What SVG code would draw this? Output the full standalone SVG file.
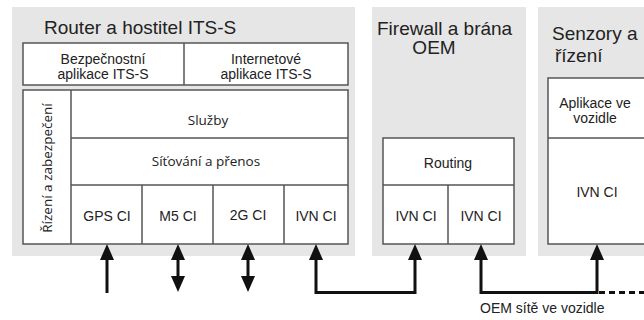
<svg xmlns="http://www.w3.org/2000/svg" width="644" height="320" viewBox="0 0 644 320">
<style>
.panel{fill:#e6e6e6;stroke:none}
.box{fill:#fff;stroke:#555;stroke-width:1.5}
.ln{fill:none;stroke:#555;stroke-width:1.5}
.t{font-family:"Liberation Sans",Arial,sans-serif;fill:#222}
.title{font-size:19px}
.lbl{font-size:14px;text-anchor:middle}
.ns{font-family:"Open Sans","Noto Sans",sans-serif;fill:#222;font-size:13.5px;text-anchor:middle}
.arr{fill:none;stroke:#111;stroke-width:3}
.dash{fill:none;stroke:#111;stroke-width:3;stroke-dasharray:6 4}
</style>
<defs>
<marker id="ah" viewBox="0 0 16 14" refX="10" refY="7" markerWidth="16" markerHeight="14" markerUnits="userSpaceOnUse" orient="auto-start-reverse">
<path d="M0,0 L16,7 L0,14 z" fill="#111"/>
</marker>
</defs>
<g id="router">
<rect class="panel" x="12" y="7" width="343" height="249"/>
<text class="t title" x="44" y="34">Router a hostitel ITS-S</text>
<rect class="box" x="23" y="43" width="325" height="42"/>
<line class="ln" x1="184" y1="43" x2="184" y2="85"/>
<text class="t lbl" x="103" y="64">Bezpečnostní</text>
<text class="t lbl" x="103" y="79">aplikace ITS-S</text>
<text class="t lbl" x="266" y="64">Internetové</text>
<text class="t lbl" x="266" y="79">aplikace ITS-S</text>
<rect class="box" x="23" y="90" width="325" height="154"/>
<line class="ln" x1="71" y1="90" x2="71" y2="244"/>
<line class="ln" x1="71" y1="138" x2="348" y2="138"/>
<line class="ln" x1="71" y1="185" x2="348" y2="185"/>
<line class="ln" x1="142" y1="185" x2="142" y2="244"/>
<line class="ln" x1="213" y1="185" x2="213" y2="244"/>
<line class="ln" x1="284" y1="185" x2="284" y2="244"/>
<text class="ns" transform="translate(52,168) rotate(-90)">Řízení a zabezpečení</text>
<text class="ns" x="208" y="125">Služby</text>
<text class="ns" x="206" y="166">Síťování a přenos</text>
<text class="t lbl" x="107" y="221">GPS CI</text>
<text class="t lbl" x="178" y="221">M5 CI</text>
<text class="t lbl" x="248" y="220">2G CI</text>
<text class="t lbl" x="316" y="221">IVN CI</text>
</g>
<g id="firewall">
<rect class="panel" x="372" y="7" width="154" height="249"/>
<text class="t title" x="377" y="35">Firewall a brána</text>
<text class="t title" x="434" y="54" text-anchor="middle">OEM</text>
<rect class="box" x="383" y="138" width="131" height="106"/>
<line class="ln" x1="383" y1="185" x2="514" y2="185"/>
<line class="ln" x1="448" y1="185" x2="448" y2="244"/>
<text class="t lbl" x="448" y="168">Routing</text>
<text class="t lbl" x="416" y="221">IVN CI</text>
<text class="t lbl" x="481" y="221">IVN CI</text>
</g>
<g id="senzory">
<rect class="panel" x="538" y="7" width="110" height="249"/>
<text class="t title" x="552" y="40">Senzory a</text>
<text class="t title" x="555" y="62">řízení</text>
<rect class="box" x="548" y="78" width="110" height="166"/>
<line class="ln" x1="548" y1="138" x2="644" y2="138"/>
<text class="t lbl" x="595" y="108">Aplikace ve</text>
<text class="t lbl" x="595" y="123">vozidle</text>
<text class="t lbl" x="597" y="197">IVN CI</text>
</g>
<g id="connectors">
<path class="arr" d="M107,293 L107,250" marker-end="url(#ah)"/>
<path class="arr" d="M178,250 L178,286" marker-start="url(#ah)" marker-end="url(#ah)"/>
<path class="arr" d="M248,250 L248,286" marker-start="url(#ah)" marker-end="url(#ah)"/>
<path class="arr" d="M316,250 L316,292.5 L415,292.5 L415,250" marker-start="url(#ah)" marker-end="url(#ah)"/>
<path class="arr" d="M481,250 L481,292.5 L597,292.5 L597,250" marker-start="url(#ah)" marker-end="url(#ah)"/>
<path class="dash" d="M599,292.5 L644,292.5"/>
<text class="t" x="480" y="313" font-size="14">OEM sítě ve vozidle</text>
</g>
</svg>
